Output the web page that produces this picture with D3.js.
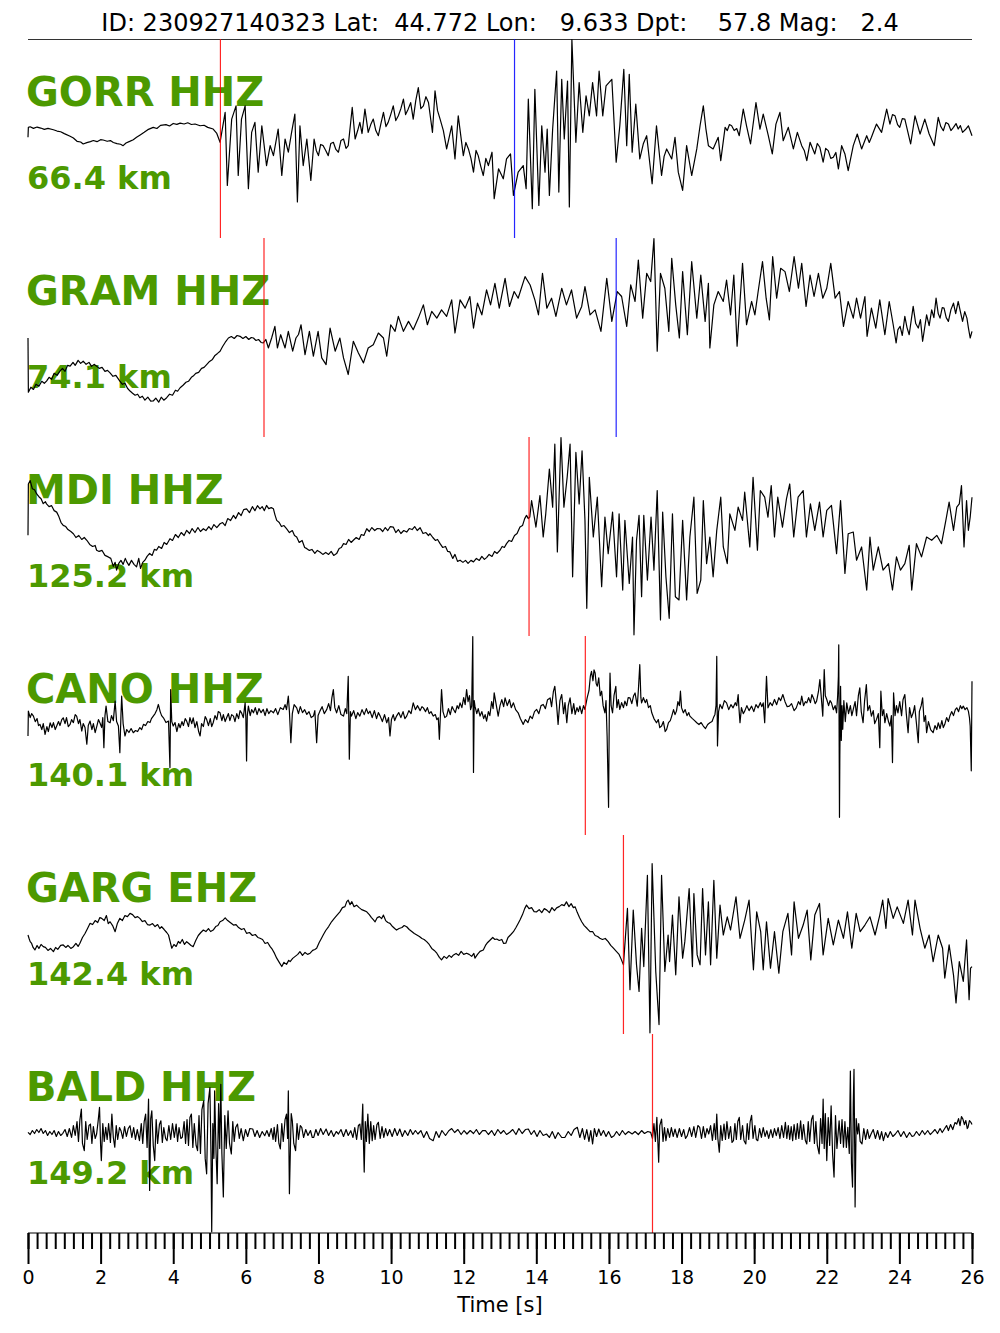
<!DOCTYPE html>
<html><head><meta charset="utf-8">
<script src="https://cdn.jsdelivr.net/npm/d3@7"></script>
<style>html,body{margin:0;padding:0;background:#fff;}svg{display:block;}</style>
</head><body>
<script>
const titleText = "ID: 230927140323 Lat:  44.772 Lon:   9.633 Dpt:    57.8 Mag:   2.4";
const stations = ["GORR HHZ","GRAM HHZ","MDI HHZ","CANO HHZ","GARG EHZ","BALD HHZ"];
const distances = ["66.4 km","74.1 km","125.2 km","140.1 km","142.4 km","149.2 km"];
const pPicks = [5.3, 6.5, 13.8, 15.35, 16.4, 17.2];
const sPicks = [13.4, 16.2, null, null, null, null];
const tickLabels = [0,2,4,6,8,10,12,14,16,18,20,22,24,26];
const xLabel = "Time [s]";

// [time s, amplitude (normalised, -100..100)]
const gorr = [[0,1.2],[0.01,11.2],[0.06,11.8],[0.15,10.2],[0.25,11.5],[0.35,10.5],[0.45,9.2],[0.55,10.1],[0.7,8.8],[0.8,7.5],[0.9,6.8],[1.0,4.9],[1.16,2.2],[1.25,0.5],[1.35,-2.8],[1.45,-3.5],[1.52,-5.5],[1.62,-4.2],[1.72,-3.1],[1.8,-2],[1.9,-3.2],[2.0,-1.2],[2.07,-1.5],[2.18,-2.8],[2.27,-2.1],[2.35,-4],[2.45,-5.1],[2.55,-5.8],[2.62,-7.2],[2.7,-4.5],[2.8,-2.9],[2.9,-1.2],[2.99,1.2],[3.1,3.8],[3.2,6.2],[3.3,8.9],[3.45,11.2],[3.55,10.1],[3.65,13.2],[3.8,14],[3.9,12.6],[4.0,15.1],[4.1,14.2],[4.19,15.5],[4.3,14.6],[4.4,15.8],[4.5,14.1],[4.6,14.6],[4.74,12.8],[4.85,13.3],[4.95,11.2],[5.10,9.5],[5.2,5.1],[5.29,-3.8],
[5.43,26.2],[5.49,-47.2],[5.61,19.5],[5.73,32.8],[5.79,-37.2],[5.88,19.5],[5.98,32.8],[6.07,-50.5],[6.16,6.2],[6.25,16.2],[6.34,-33.8],[6.44,12.8],[6.57,-27.2],[6.67,-7.2],[6.76,-17.2],[6.89,9.5],[6.99,-37.2],[7.08,-0.5],[7.17,-13.8],[7.26,6.2],[7.35,24.5],[7.42,-63.8],[7.49,12.8],[7.58,-27.2],[7.68,-0.5],[7.79,-42.2],[7.88,-0.5],[7.94,-12],[8.00,-17.2],[8.06,-6],[8.13,-7.2],[8.2,-12],[8.27,-17.2],[8.34,-5],[8.41,-3.8],[8.48,-11],[8.55,-13.8],[8.62,-2],[8.69,-0.5],[8.76,-10],[8.82,-7.2],[8.93,31.2],[9.01,-0.5],[9.08,8],[9.14,16.2],[9.2,5],[9.28,29.5],[9.37,6.2],[9.44,14],[9.51,19.5],[9.58,8],[9.65,2.8],[9.72,15],[9.79,26.2],[9.86,12],[9.92,16.2],[9.99,24],[10.06,32.8],[10.13,18],[10.20,22.8],[10.27,30],[10.34,39.5],[10.4,24],[10.47,29.5],[10.54,36],[10.61,19.5],[10.68,38],[10.75,51.2],[10.82,30],[10.89,32.8],[10.96,42],[11.03,36.2],[11.14,6.2],[11.21,47.8],[11.28,28],[11.35,19.5],[11.44,8],[11.53,-10.5],[11.67,12.8],[11.76,-20.5],[11.85,22.8],[11.99,-17.2],[12.06,-4],[12.13,-10.5],[12.2,-20],[12.27,-33.8],[12.34,-12],[12.40,-17.2],[12.47,-28],[12.54,-37.2],[12.61,-20],[12.68,-27.2],[12.78,-13.8],[12.84,-60.5],[12.96,-30.5],
[13.09,-40.5],[13.18,-20.5],[13.29,-15.5],[13.37,-57.2],[13.50,-33.8],[13.64,-27.2],[13.72,-50.5],[13.78,39.5],[13.89,-70.5],[13.96,49.5],[14.07,-67.2],[14.15,12.8],[14.24,-33.8],[14.30,9.5],[14.36,-57.2],[14.45,9.5],[14.56,67.8],[14.62,-53.8],[14.70,59.5],[14.77,-0.5],[14.86,57.8],[14.91,-68.8],[14.98,99.5],[15.09,-3.8],[15.18,56.2],[15.28,6.2],[15.37,42.8],[15.46,22.8],[15.55,56.2],[15.66,22.8],[15.73,67.8],[15.83,22.8],[15.92,52.8],[16.08,59.5],[16.20,-23.8],[16.30,12.8],[16.41,69.5],[16.49,-7.2],[16.56,64.5],[16.64,-13.8],[16.74,34.5],[16.85,-20.5],[16.95,-5],[17.04,2.8],[17.19,-45.5],[17.31,12.8],[17.45,-37.2],[17.52,-18],[17.59,-10.5],[17.73,-20.5],[17.82,1.2],[17.91,-33.8],[18.03,-52.2],[18.14,-7.2],[18.28,-37.2],[18.42,-10.5],[18.51,12.8],[18.60,32.8],[18.67,10],[18.74,-7.2],[18.87,-10.5],[19.01,1.2],[19.08,-22.2],[19.20,11.2],[19.26,8],[19.32,14],[19.38,12.8],[19.45,8],[19.52,10],[19.59,2.8],[19.70,29.5],[19.79,12.8],[19.90,-5.5],[20.05,36.2],[20.16,9.5],[20.25,24.5],[20.39,2.8],[20.50,-15.5],[20.60,14.5],[20.71,26.2],[20.80,-2.2],[20.94,11.2],[21.08,-10.5],[21.19,6.2],[21.31,-7.2],[21.38,-12],[21.45,-22.2],[21.54,-3.8],[21.67,-15.5],[21.74,-5],[21.81,-8.8],[21.90,-23.8],[21.97,-10],[22.04,-12.2],[22.11,-20],[22.18,-18.8],[22.25,-14],[22.32,-30.5],[22.41,-7.2],[22.50,-15.5],[22.59,-32.2],[22.73,-7.2],[22.84,4.5],[22.96,-10.5],[23.10,2.8],[23.17,-4],[23.23,1.2],[23.3,8],[23.37,14.5],[23.51,6.2],[23.65,29.5],[23.74,14.5],[23.81,24],[23.88,22.8],[23.95,14],[24.01,11.2],[24.08,20],[24.15,19.5],[24.31,-5.5],[24.43,22.8],[24.57,4.5],[24.70,19.5],[24.82,4.5],[24.96,-7.2],[25.07,21.2],[25.14,12],[25.21,7.8],[25.28,16],[25.35,14.5],[25.42,8],[25.49,11.2],[25.56,15],[25.62,9.5],[25.68,13],[25.74,6.2],[25.82,9],[25.90,12.8],[26.00,2.8]];

const gram = [[0,-0.5],[0.01,-55],[0.08,-50],[0.15,-52.2],[0.22,-47],[0.3,-49],[0.38,-44],[0.45,-46],[0.51,-43.8],[0.58,-40],[0.65,-42],[0.72,-36],[0.8,-38],[0.88,-33.8],[0.95,-31],[1.02,-34],[1.09,-28],[1.16,-28.8],[1.24,-25],[1.3,-28],[1.38,-23],[1.45,-26],[1.52,-23.8],[1.6,-27],[1.68,-25],[1.75,-29],[1.82,-27],[1.89,-28.8],[1.96,-31],[2.04,-30],[2.12,-34],[2.19,-33],[2.26,-35.5],[2.34,-39],[2.42,-38],[2.53,-43.8],[2.6,-47],[2.67,-46],[2.74,-51],[2.81,-53.8],[2.88,-56],[2.95,-58],[3.02,-57],[3.08,-60.5],[3.15,-59],[3.22,-63],[3.3,-60],[3.38,-64],[3.45,-63.8],[3.52,-61],[3.6,-65],[3.67,-60],[3.74,-63],[3.82,-60.5],[3.9,-57],[3.98,-58],[4.06,-53],[4.12,-54],[4.19,-50.5],[4.27,-48],[4.35,-45],[4.42,-44],[4.5,-40],[4.55,-38.8],[4.62,-36],[4.7,-35],[4.78,-31],[4.85,-30],[4.92,-27.2],[5.0,-24],[5.08,-22],[5.15,-18],[5.22,-16],[5.29,-13.8],[5.36,-9],[5.43,-5],[5.52,-0.5],[5.6,1],[5.68,-1],[5.76,2],[5.84,1.2],[5.92,-1],[6.0,1],[6.08,-2],[6.15,0],[6.21,-0.5],[6.28,-3],[6.35,-2],[6.42,-5],[6.48,-5.5],
[6.55,-2],[6.62,-10.5],[6.71,-0.5],[6.80,11.2],[6.87,-10.5],[6.96,2.8],[7.02,-4],[7.08,-10.5],[7.17,6.2],[7.29,-13.8],[7.38,-0.5],[7.45,3],[7.52,12.8],[7.63,-17.2],[7.75,6.2],[7.86,-18.8],[7.99,6.2],[8.09,-20.5],[8.21,-27.2],[8.32,9.5],[8.46,-13.8],[8.59,-0.5],[8.69,-20.5],[8.82,-37.2],[8.96,-3.8],[9.10,-15.5],[9.24,-25.5],[9.37,-10.5],[9.51,-7.2],[9.65,4.5],[9.79,-0.5],[9.88,-18.8],[9.99,12.8],[10.11,6.2],[10.20,21.2],[10.34,6.2],[10.48,16.2],[10.61,7.8],[10.75,19.5],[10.89,32.8],[11.00,12.8],[11.12,26.2],[11.26,19.5],[11.39,27.8],[11.53,21.2],[11.67,37.8],[11.76,4.5],[11.90,37.8],[12.04,29.5],[12.17,41.2],[12.27,9.5],[12.38,34.5],[12.50,22.8],[12.63,47.8],[12.74,32.8],[12.86,54.5],[12.98,29.5],
[13.14,59.5],[13.26,31.2],[13.39,46.2],[13.50,39.5],[13.69,61.2],[13.83,52.8],[13.96,37.8],[14.06,22.8],[14.17,64.5],[14.29,29.5],[14.42,39.5],[14.54,21.2],[14.70,49.5],[14.83,32.8],[14.97,47.8],[15.11,19.5],[15.25,31.2],[15.34,51.2],[15.48,22.8],[15.62,27.8],[15.78,6.2],[15.94,59.5],[16.08,16.2],[16.23,46.2],[16.35,41.2],[16.49,11.2],[16.60,52.8],[16.72,36.2],[16.81,77.8],[16.93,19.5],[17.04,64.5],[17.15,56.2],[17.24,99.5],[17.33,-13.8],[17.42,64.5],[17.54,49.5],[17.65,6.2],[17.73,79.5],[17.84,32.8],[17.94,-0.5],[18.03,66.2],[18.16,2.8],[18.28,76.2],[18.42,19.5],[18.53,62.8],[18.65,16.2],[18.74,54.5],[18.78,-10.5],[18.89,32.8],[19.01,46.2],[19.15,36.2],[19.24,57.8],[19.35,22.8],[19.44,62.8],[19.53,-8.8],[19.68,74.5],[19.79,12.8],[19.93,36.2],[20.02,22.8],[20.11,46.2],[20.23,76.2],[20.33,39.5],[20.42,17.8],[20.51,81.2],[20.62,39.5],[20.73,69.5],[20.85,66.2],[20.97,46.2],[21.10,81.2],[21.22,49.5],[21.31,74.5],[21.43,31.2],[21.54,62.8],[21.65,41.2],[21.77,64.5],[21.89,39.5],[22.00,49.5],[22.11,74.5],[22.23,39.5],[22.35,46.2],[22.46,11.2],[22.59,36.2],[22.73,19.5],[22.82,39.5],[22.93,19.5],[23.05,41.2],[23.11,1.2],[23.23,29.5],[23.35,9.5],[23.46,37.8],[23.60,2.8],[23.72,36.2],[23.83,12.8],[23.91,-5.5],[23.96,8],[24.02,11.2],[24.08,2],[24.15,21.2],[24.21,10],[24.27,2.8],[24.38,31.2],[24.45,14],[24.52,9.5],[24.58,18],[24.64,-3.8],[24.75,22.8],[24.82,12],[24.89,27.8],[24.95,20],[25.01,39.5],[25.07,24],[25.12,19.5],[25.18,30],[25.23,29.5],[25.29,20],[25.35,16.2],[25.42,28],[25.49,34.5],[25.55,24],[25.62,36.2],[25.68,26],[25.74,16.2],[25.8,26],[25.86,19.5],[25.9,10],[25.95,-0.5],[26.00,6.2]];

const mdi = [[0,1.2],[0.01,52.8],[0.06,56.2],[0.12,48],[0.18,47],[0.24,42.8],[0.3,40],[0.36,38],[0.42,33],[0.48,35],[0.51,32.8],[0.58,30],[0.65,31],[0.72,26],[0.79,24.5],[0.85,20],[0.91,14],[0.97,11.2],[1.04,10],[1.1,7],[1.18,5],[1.25,2.8],[1.32,-1],[1.4,1],[1.48,-3],[1.55,-1],[1.62,-3.8],[1.7,-8],[1.78,-10],[1.85,-9],[1.89,-13.8],[1.96,-15],[2.04,-14],[2.12,-19],[2.21,-20.5],[2.28,-22],[2.35,-30],[2.4,-26],[2.44,-33.8],[2.5,-27],[2.56,-24],[2.62,-28],[2.68,-22],[2.72,-25.5],[2.78,-29],[2.85,-24],[2.92,-28],[2.99,-30.5],[3.05,-22],[3.1,-32],[3.16,-26],[3.22,-23.8],[3.28,-20],[3.35,-17],[3.42,-19],[3.48,-13],[3.54,-13.8],[3.6,-10],[3.68,-12],[3.75,-6],[3.82,-8],[3.91,-2.2],[3.98,-4],[4.06,2],[4.14,-1],[4.22,4],[4.3,1],[4.37,6.2],[4.45,3],[4.52,8],[4.6,4],[4.68,9],[4.75,5],[4.83,7.8],[4.9,6],[4.98,10],[5.05,7],[5.12,12],[5.2,9],[5.29,12.8],[5.36,14],[5.43,11],[5.5,18],[5.58,16],[5.66,21.2],[5.72,18],[5.8,24],[5.87,21],[5.94,27],[6.02,27.8],[6.1,24],[6.18,30],[6.25,26],[6.32,31],[6.39,27.8],[6.45,30],[6.51,26],[6.57,31.2],[6.63,28],[6.7,29],[6.76,27.8],[6.8,22],[6.85,16.2],[6.92,14],[6.98,10],[7.05,11],[7.12,7.8],[7.2,4],[7.28,6],[7.34,1],[7.4,-0.5],[7.47,-6],[7.55,-4],[7.62,-11],[7.68,-12.2],[7.75,-14],[7.82,-13],[7.9,-17],[7.97,-14],[8.04,-15.5],[8.12,-18],[8.2,-16],[8.28,-18],[8.35,-15],[8.42,-19],[8.5,-17.2],[8.57,-12],[8.63,-11],[8.69,-7.2],[8.76,-8],[8.83,-3],[8.9,-6],[8.96,-3.8],[9.04,-1],[9.12,-3],[9.18,2],[9.25,1],[9.33,7.8],[9.4,5],[9.47,9],[9.55,6],[9.62,8],[9.7,7.8],[9.77,5],[9.84,9],[9.91,6],[9.98,10],[10.06,9.5],[10.13,4],[10.2,7],[10.27,3],[10.35,6],[10.43,4.5],[10.5,8],[10.58,7],[10.65,10],[10.72,6],[10.8,8.8],[10.88,3],[10.96,4],[11.03,1],[11.07,2.8],[11.15,-1],[11.22,-4],[11.28,-3],[11.35,-7.2],[11.42,-11],[11.5,-10],[11.56,-15],[11.62,-15.5],[11.7,-22],[11.76,-18],[11.83,-25],[11.9,-23.8],[11.98,-26],[12.05,-24],[12.12,-27],[12.2,-24],[12.27,-25.5],[12.35,-22],[12.43,-24],[12.5,-20],[12.57,-23],[12.63,-21.2],[12.7,-18],[12.78,-20],[12.85,-15],[12.92,-17],[13.0,-13.8],[13.06,-10],[13.12,-11],[13.18,-7.2],[13.25,-4],[13.32,-5],[13.4,1],[13.47,3],[13.55,9.5],[13.62,11],[13.68,18],[13.73,21.2],[13.78,18],[13.82,19.5],
[13.87,36.2],[13.99,9.5],[14.10,41.2],[14.19,-0.5],[14.26,22.8],[14.36,67.8],[14.45,29.5],[14.51,92.8],[14.58,-15.5],[14.68,99.5],[14.76,29.5],[14.85,59.5],[14.93,92.8],[15.00,-40.5],[15.09,84.5],[15.18,32.8],[15.26,86.2],[15.34,16.2],[15.39,-72.2],[15.46,59.5],[15.57,-0.5],[15.68,39.5],[15.80,-50.5],[15.89,19.5],[15.98,-17.2],[16.10,24.5],[16.21,-40.5],[16.28,22.8],[16.38,-53.8],[16.44,16.2],[16.56,-47.2],[16.65,-0.5],[16.69,-98.8],[16.76,-3.8],[16.83,21.2],[16.90,-60.5],[16.96,21.2],[17.06,-43.8],[17.16,19.5],[17.24,-33.8],[17.33,46.2],[17.42,-83.8],[17.48,24.5],[17.57,-40.5],[17.66,-82.2],[17.75,22.8],[17.83,-60.5],[17.93,-63.8],[18.03,16.2],[18.14,-63.8],[18.23,-0.5],[18.34,39.5],[18.43,-57.2],[18.53,-43.8],[18.60,36.2],[18.69,-27.2],[18.78,-0.5],[18.87,-40.5],[18.97,6.2],[19.08,39.5],[19.15,-10.5],[19.26,-27.2],[19.33,22.8],[19.47,6.2],[19.56,29.5],[19.68,16.2],[19.74,44.5],[19.88,-10.5],[19.97,59.5],[20.09,-13.8],[20.17,46.2],[20.29,39.5],[20.38,19.5],[20.47,51.2],[20.56,-0.5],[20.65,39.5],[20.78,9.5],[20.89,37.8],[20.98,52.8],[21.09,-0.5],[21.21,39.5],[21.35,46.2],[21.44,-0.5],[21.55,32.8],[21.67,6.2],[21.80,34.5],[21.90,-0.5],[22.00,26.2],[22.13,31.2],[22.27,-17.2],[22.38,36.2],[22.50,-37.2],[22.59,2.8],[22.73,4.5],[22.82,-23.8],[22.96,-10.5],[23.10,-53.8],[23.19,-0.5],[23.28,-33.8],[23.42,-10.5],[23.55,-33.8],[23.70,-27.2],[23.81,-53.8],[23.92,-20.5],[24.03,-33.8],[24.15,-27.2],[24.27,-8.8],[24.34,-53.8],[24.47,-7.2],[24.61,-20.5],[24.75,-0.5],[24.89,-3.8],[25.03,1.2],[25.16,-7.2],[25.28,16.2],[25.37,34.5],[25.49,6.2],[25.58,29.5],[25.65,32.8],[25.71,51.2],[25.78,-10.5],[25.85,36.2],[25.90,6.2],[25.95,19.5],[26.00,39.5]];

const cano = [[0,-0.5],[0.01,24.5],[0.06,18],[0.1,22],[0.15,19.5],[0.2,14],[0.25,17],[0.29,10],[0.33,11.2],[0.38,6],[0.42,12],[0.47,1.2],[0.52,9],[0.56,4],[0.61,12.8],[0.66,8],[0.7,13],[0.75,6],[0.79,9.5],[0.84,14],[0.88,10],[0.93,16],[0.97,17.8],[1.02,12],[1.06,18],[1.11,9],[1.16,11.2],[1.2,16],[1.25,13],[1.3,21],[1.34,19.5],[1.39,12],[1.43,16],[1.48,4.5],[1.52,12],[1.57,8],[1.62,-8.8],[1.66,10],[1.71,14.5],[1.76,6],[1.8,12],[1.85,2.8],[1.9,10],[1.94,16],[1.98,12.8],[2.03,8],[2.06,18],[2.09,-12.2],[2.12,20],[2.15,29.5],[2.2,14],[2.26,12.8],[2.3,20],[2.35,15],[2.4,34.5],[2.44,14],[2.49,9.5],[2.53,-17.2],[2.56,20],[2.58,39.5],[2.62,12],[2.67,-0.5],[2.72,6],[2.78,3],[2.84,7],[2.9,2.8],[2.96,5],[3.02,4],[3.08,8],[3.13,6],[3.18,11.2],[3.24,10],[3.3,14],[3.36,13],[3.4,17],[3.45,19.5],[3.5,22],[3.55,26],[3.59,31.2],[3.64,24],[3.68,20],[3.73,17.8],[3.8,13],[3.87,14.5],[3.91,-32.2],[3.93,46.2],[3.96,14],[4.0,9.5],[4.05,13],[4.1,4],[4.15,12],[4.19,7.8],[4.24,14],[4.28,10],[4.33,17],[4.37,14.5],[4.42,9],[4.46,18],[4.51,12],[4.55,17.8],[4.6,8],[4.65,14],[4.7,4],[4.74,-0.5],[4.78,12],[4.83,9],[4.88,19],[4.92,16.2],[4.97,10],[5.02,17],[5.06,9],[5.10,12.8],[5.15,20],[5.2,16],[5.24,24],[5.29,22.8],[5.34,15],[5.38,21],[5.43,14],[5.47,17.8],[5.52,22],[5.56,15],[5.61,21],[5.66,19.5],[5.7,14],[5.75,22],[5.8,17],[5.84,25],[5.88,22.8],[5.93,18],[5.98,32.8],[6.0,18],[6.02,-25.5],[6.04,20],[6.07,29.5],[6.12,20],[6.16,26],[6.21,22.8],[6.26,28],[6.31,21],[6.36,27],[6.42,23],[6.48,26.2],[6.53,20],[6.58,27],[6.63,22],[6.69,25],[6.76,22.8],[6.82,27],[6.88,21],[6.95,28],[7.03,26.2],[7.08,31],[7.12,26],[7.17,39.5],[7.2,24],[7.24,-7.2],[7.28,22],[7.33,31],[7.4,27.8],[7.45,22],[7.5,29],[7.56,23],[7.62,26],[7.68,21.2],[7.74,24],[7.8,18],[7.86,19.5],[7.9,25],[7.95,-7.2],[7.99,20],[8.04,24.5],[8.1,29],[8.16,22],[8.23,26.2],[8.28,32],[8.33,25],[8.37,38],[8.41,46.2],[8.45,28],[8.5,22.8],[8.56,30],[8.62,21],[8.69,19.5],[8.74,27],[8.78,22],[8.82,59.5],[8.85,-23.8],[8.88,24],[8.91,19.5],[8.97,25],[9.03,17],[9.08,23],[9.14,19.5],[9.2,26],[9.26,21],[9.32,27],[9.37,22],[9.42,24.5],[9.48,18],[9.54,25],[9.6,17],[9.65,23],[9.7,19.5],[9.76,14],[9.82,21],[9.88,12.8],[9.93,18],[9.97,-0.5],[10.01,16],[10.06,21],[10.1,15],[10.15,19.5],[10.21,23],[10.27,18],[10.33,24],[10.38,17],[10.43,19.5],[10.49,25],[10.55,22],[10.61,32.8],[10.67,26],[10.73,30],[10.8,25],[10.85,29],[10.89,27.8],[10.95,24],[11.0,28],[11.05,22],[11.1,24],[11.16,19.5],[11.22,21],[11.26,16],[11.3,17.8],[11.33,-3.8],[11.36,22],[11.39,46.2],[11.43,24],[11.48,18],[11.53,19.5],[11.58,27],[11.63,21],[11.68,29],[11.72,26.2],[11.77,23],[11.82,30],[11.86,27],[11.9,32.8],[11.95,28],[12.0,38],[12.04,31],[12.08,46.2],[12.12,34],[12.16,40],[12.19,26],[12.22,29.5],[12.25,99.5],[12.27,-37.2],[12.29,35],[12.31,29.5],[12.36,22],[12.4,27],[12.45,19.5],[12.5,24],[12.55,17],[12.59,21],[12.63,14.5],[12.68,24],[12.72,20],[12.77,34],[12.81,27],[12.84,42.8],[12.9,30],[12.95,19.5],[13.0,30],[13.05,36],[13.1,29],[13.14,37.8],[13.2,30],[13.26,36],[13.31,28],[13.37,32.8],[13.43,26],[13.5,22.8],[13.56,17],[13.64,11.2],[13.7,16],[13.77,13],[13.83,19.5],[13.89,17],[13.95,24],[14.01,26.2],[14.07,22],[14.13,30],[14.19,31.2],[14.25,27],[14.31,36],[14.38,37.8],[14.42,29],[14.47,44],[14.51,49.5],[14.56,30],[14.6,11.2],[14.65,35],[14.7,41.2],[14.75,22],[14.79,33],[14.84,12.8],[14.88,30],[14.93,37.8],[14.98,22],[15.03,32],[15.07,21.2],[15.12,28],[15.16,24],[15.2,29.5],[15.25,22],[15.3,30],[15.34,26.2],
[15.40,37.8],[15.45,45],[15.49,60],[15.52,64.5],[15.56,55],[15.59,66],[15.62,62.8],[15.65,52],[15.68,49.5],[15.72,58],[15.76,40],[15.8,44.5],[15.84,30],[15.89,22.8],[15.92,35],[15.95,-0.5],[15.99,-72.2],[16.01,20],[16.03,62.8],[16.06,30],[16.1,22.8],[16.14,40],[16.19,49.5],[16.22,28],[16.26,36],[16.3,26.2],[16.35,33],[16.4,28],[16.44,34.5],[16.49,30],[16.53,38],[16.58,37.8],[16.63,32],[16.68,40],[16.72,42.8],[16.78,29.5],[16.81,45],[16.85,71.2],[16.88,38],[16.9,32.8],[16.95,38],[17.0,33],[17.04,36.2],[17.09,28],[17.14,30],[17.18,22.8],[17.24,17],[17.31,12.8],[17.36,16],[17.4,8],[17.45,9.5],[17.5,14],[17.55,4],[17.59,6.2],[17.64,13],[17.69,15],[17.73,19.5],[17.78,26],[17.82,21],[17.86,24.5],[17.9,34],[17.94,30],[17.97,44.5],[18.0,28],[18.05,22.8],[18.1,26],[18.15,20],[18.2,23],[18.23,19.5],[18.3,17],[18.36,15],[18.42,12.8],[18.48,11],[18.54,13],[18.6,9.5],[18.66,7],[18.72,11],[18.78,12.8],[18.84,14],[18.88,18],[18.92,21.2],[18.95,30],[18.97,79.5],[18.99,-10.5],[19.02,24],[19.06,31.2],[19.12,27],[19.18,35],[19.24,32.8],[19.3,26],[19.36,31],[19.42,27.8],[19.48,33],[19.52,30],[19.56,41.2],[19.58,28],[19.61,12.8],[19.65,28],[19.7,22],[19.74,24.5],[19.8,30],[19.86,25],[19.93,29.5],[19.99,24],[20.05,31],[20.11,27.8],[20.17,33],[20.21,29],[20.25,32.8],[20.29,12.8],[20.34,59.5],[20.38,27.8],[20.44,33],[20.5,30],[20.56,36.2],[20.62,31],[20.68,38],[20.73,35],[20.79,41.2],[20.85,34],[20.91,29],[20.97,29.5],[21.03,32],[21.1,25],[21.16,27.8],[21.22,34],[21.27,31],[21.31,39.5],[21.36,30],[21.41,34],[21.45,32.8],[21.5,38],[21.55,33],[21.59,41.2],[21.64,37],[21.68,32],[21.72,34.5],[21.77,44],[21.81,56.2],[21.85,38],[21.89,19.5],[21.93,66.2],[21.96,40],[22.0,36.2],[22.05,30],[22.09,35],[22.13,32.8],[22.18,26],[22.23,30],[22.27,22.8],[22.3,40],[22.32,59.5],[22.33,91.2],[22.35,-82.2],[22.36,-20],[22.38,49.5],[22.4,-5],[22.42,30],[22.44,6.2],[22.47,35],[22.51,14],[22.55,32.8],[22.6,22],[22.65,30],[22.69,20],[22.73,26.2],[22.78,34],[22.82,20],[22.87,40],[22.91,47.8],[22.95,24],[23.0,12.8],[23.04,34],[23.09,51.2],[23.13,25],[23.18,30],[23.23,19.5],[23.28,25],[23.32,12],[23.37,16.2],[23.42,22],[23.46,-12.2],[23.49,44.5],[23.53,20],[23.57,26],[23.6,12.8],[23.65,22],[23.7,14],[23.74,9.5],[23.78,20],[23.81,-27.2],[23.84,42.8],[23.88,20],[23.92,30],[23.96,22.8],[24.01,34],[24.06,20],[24.1,36],[24.15,41.2],[24.19,22],[24.24,2.8],[24.28,28],[24.33,18],[24.38,22.8],[24.42,30],[24.47,12],[24.52,-7.2],[24.55,24],[24.6,30],[24.64,37.8],[24.68,14],[24.72,20],[24.75,2.8],[24.8,14],[24.86,6],[24.93,2.8],[24.98,10],[25.03,6],[25.07,12.8],[25.12,7],[25.17,15],[25.21,8],[25.25,11.2],[25.3,18],[25.35,14],[25.39,19.5],[25.44,24],[25.49,20],[25.54,26],[25.58,27.8],[25.63,24],[25.68,30],[25.72,27],[25.76,29.5],[25.81,26],[25.86,28],[25.9,24.5],[25.93,18],[25.95,9.5],[25.98,-35.5],[26.00,54.5]];

const garg = [[0,-0.5],[0.03,-4],[0.06,-7.2],[0.1,-9],[0.14,-13],[0.19,-15.5],[0.25,-11],[0.3,-14],[0.36,-10],[0.42,-12.2],[0.48,-13],[0.55,-16],[0.62,-14],[0.7,-17.2],[0.76,-13],[0.82,-15],[0.9,-11],[0.97,-10.5],[1.04,-13],[1.1,-11],[1.18,-14],[1.25,-12.2],[1.32,-9],[1.38,-12],[1.43,-8.8],[1.5,-3],[1.57,1],[1.64,6],[1.71,11.2],[1.78,10],[1.85,14],[1.92,12],[1.98,17],[2.03,16.2],[2.1,14],[2.16,19],[2.21,11],[2.26,12.8],[2.33,9],[2.4,2.8],[2.46,11],[2.53,16.2],[2.6,14],[2.67,19],[2.74,18],[2.81,21.2],[2.88,20],[2.95,17],[3.02,18],[3.08,16.2],[3.15,13],[3.22,14],[3.29,10],[3.36,9.5],[3.43,11],[3.5,8],[3.57,10],[3.63,6],[3.68,7.8],[3.75,5],[3.82,2],[3.87,-0.5],[3.92,-8],[3.96,-13.8],[4.02,-10],[4.08,-12],[4.14,-7],[4.19,-8.8],[4.25,-5],[4.31,-10],[4.37,-7.2],[4.43,-9],[4.49,-11],[4.55,-12.2],[4.62,-6],[4.69,-1],[4.76,2],[4.83,4.5],[4.9,3],[4.97,6],[5.03,3],[5.1,4.5],[5.17,8],[5.23,9],[5.29,12.8],[5.36,14],[5.43,16.8],[5.5,14],[5.57,12],[5.66,9.5],[5.73,10],[5.8,7],[5.88,5],[5.95,6],[6.02,1.2],[6.1,2],[6.18,-1],[6.26,0],[6.33,-3],[6.39,-3.8],[6.46,-5],[6.53,-9],[6.6,-8],[6.67,-12.2],[6.73,-15],[6.79,-19],[6.85,-23.8],[6.92,-28],[6.99,-32.2],[7.05,-28],[7.12,-30],[7.18,-26],[7.22,-27.2],[7.29,-24],[7.36,-22],[7.43,-20],[7.49,-17.2],[7.56,-21],[7.63,-18],[7.7,-20],[7.77,-18.8],[7.84,-16],[7.9,-15],[7.95,-13.8],[8.02,-8],[8.08,-4],[8.13,-0.5],[8.2,4],[8.28,8],[8.36,12.8],[8.43,16],[8.5,19],[8.59,22.8],[8.66,27],[8.73,28],[8.78,33],[8.82,34.5],[8.87,30],[8.92,33],[8.98,28],[9.05,29.5],[9.12,27],[9.19,25],[9.26,24],[9.33,22.8],[9.4,20],[9.46,17],[9.51,15],[9.56,12.8],[9.62,17],[9.68,18],[9.74,16],[9.79,19.5],[9.85,14],[9.91,12],[9.97,11.2],[10.04,8],[10.1,6],[10.15,4.5],[10.22,6],[10.3,7],[10.36,9],[10.43,7.8],[10.5,5],[10.57,3],[10.64,1],[10.71,-0.5],[10.78,-2],[10.85,-4],[10.91,-5],[10.98,-7.2],[11.05,-10],[11.12,-14],[11.19,-16],[11.26,-18.8],[11.33,-23],[11.39,-25.5],[11.46,-22],[11.53,-24],[11.6,-21],[11.66,-23],[11.72,-20.5],[11.79,-19],[11.86,-21],[11.93,-17],[12.0,-20],[12.08,-18.8],[12.15,-20],[12.22,-22],[12.28,-19],[12.31,-23.8],[12.38,-20],[12.45,-17],[12.54,-15.5],[12.6,-11],[12.66,-8],[12.73,-5.5],[12.8,-3],[12.86,-5],[12.91,-4.5],[12.98,-6],[13.05,-5],[13.1,-9],[13.16,-8.8],[13.22,-3],[13.3,0],[13.37,2.8],[13.44,7],[13.5,11],[13.55,14.5],[13.62,20],[13.68,26],[13.73,29.5],[13.8,26],[13.87,27],[13.94,23],[14.01,22.8],[14.08,25],[14.15,22],[14.22,26],[14.29,24.5],[14.36,22],[14.43,27],[14.5,24],[14.56,26.8],[14.63,28],[14.7,30],[14.77,29],[14.83,32.8],[14.9,28],[14.96,31],[15.02,27],[15.07,27.8],[15.13,22],[15.19,17],[15.25,12.8],[15.32,9],[15.4,6],[15.48,2.8],[15.55,3],[15.62,-1],[15.69,-2],[15.75,-3.8],[15.82,-5],[15.9,-4],[15.98,-7.2],[16.05,-11],[16.13,-14],[16.21,-17.2],[16.28,-20],[16.34,-25],[16.40,-30.5],
[16.51,26.2],[16.58,-55.5],[16.67,24.5],[16.76,-30.5],[16.83,-57.2],[16.90,6.2],[16.96,-32.2],[17.06,59.5],[17.13,-98.8],[17.19,71.2],[17.29,-37.2],[17.38,-90.5],[17.45,59.5],[17.54,-37.2],[17.63,-0.5],[17.67,-27.2],[17.75,19.5],[17.84,-40.5],[17.93,37.8],[18.03,-23.8],[18.09,-7.2],[18.21,46.2],[18.30,-32.2],[18.34,41.2],[18.43,-20.5],[18.51,-30.5],[18.58,46.2],[18.66,-20.5],[18.74,32.8],[18.80,-30.5],[18.89,54.5],[18.97,-23.8],[19.06,29.5],[19.15,-0.5],[19.26,17.8],[19.35,4.5],[19.50,37.8],[19.61,-3.8],[19.74,14.5],[19.86,34.5],[19.98,-35.5],[20.07,22.8],[20.18,2.8],[20.25,-35.5],[20.34,12.8],[20.45,-33.8],[20.56,2.8],[20.68,-38.8],[20.79,2.8],[20.93,21.2],[21.03,-20.5],[21.10,32.8],[21.22,-3.8],[21.35,9.5],[21.46,24.5],[21.56,-25.5],[21.67,19.5],[21.80,31.2],[21.90,-20.5],[22.04,16.2],[22.18,-10.5],[22.32,14.5],[22.46,-3.8],[22.57,22.8],[22.69,-13.8],[22.81,21.2],[22.92,2.8],[23.05,9.5],[23.19,17.8],[23.33,-0.5],[23.46,19.5],[23.54,34.5],[23.63,6.2],[23.69,36.2],[23.83,16.2],[23.94,27.8],[24.11,11.2],[24.24,34.5],[24.36,-0.5],[24.43,34.5],[24.57,6.2],[24.70,-13.8],[24.82,-0.5],[24.93,-27.2],[25.07,-0.5],[25.19,-13.8],[25.25,-43.8],[25.37,-10.5],[25.49,-40.5],[25.56,-68.8],[25.65,-27.2],[25.76,-47.2],[25.85,-5.5],[25.92,-65.5],[25.96,-33.8],[26.00,-32.2]];

const bald = [[0,1.2],[0.06,-1],[0.12,3],[0.18,0],[0.24,4],[0.3,1],[0.36,5],[0.42,0],[0.48,3],[0.54,-2],[0.6,2],[0.66,-1],[0.72,3],[0.78,-3],[0.84,2],[0.9,-2],[0.96,0.2],[1.02,4],[1.08,-3],[1.14,5],[1.2,-4],[1.25,8],[1.3,-2],[1.35,12],[1.39,-8],[1.43,14],[1.47,24.5],[1.5,-10],[1.55,-17.2],[1.59,12],[1.63,-6],[1.68,8],[1.72,9.5],[1.76,-10],[1.8,7],[1.85,-5],[1.89,-0.5],[1.93,12],[1.97,26.2],[2.0,-12],[2.02,-27.2],[2.06,10],[2.1,-8],[2.14,6.2],[2.18,-6],[2.22,10],[2.27,-9],[2.31,19.5],[2.35,-4],[2.39,-13.8],[2.43,8],[2.47,-6],[2.52,6],[2.56,2.8],[2.61,-5],[2.66,7],[2.71,-3],[2.76,5],[2.81,7.8],[2.86,-4],[2.91,6],[2.96,-6],[3.01,4],[3.07,-7.2],[3.12,10],[3.16,-10],[3.2,12],[3.24,19.5],[3.28,-14],[3.32,34.5],[3.35,-57.2],[3.38,15],[3.41,22.8],[3.45,-12],[3.49,-27.2],[3.53,14],[3.57,-10],[3.62,9],[3.66,12.8],[3.7,-9],[3.74,6],[3.79,-5],[3.83,-7.2],[3.88,8],[3.93,-6],[3.98,10],[4.03,-4],[4.08,9.5],[4.12,-8],[4.16,6],[4.21,-5],[4.25,-3.8],[4.3,12],[4.34,-10],[4.38,14],[4.42,-12],[4.46,16],[4.5,19.5],[4.54,-14],[4.58,10],[4.63,-12],[4.67,-17.2],[4.71,18],[4.75,-20],[4.79,24],[4.84,32.8],[4.88,-25],[4.92,-40.5],[4.96,30],[5.01,46.2],[5.04,-20],[5.06,-98.8],[5.09,10],[5.12,-25],[5.14,42.8],[5.18,-20],[5.21,-50.5],[5.25,30],[5.28,-15],[5.31,49.5],[5.34,-20],[5.38,-63.8],[5.42,18],[5.46,-15],[5.51,22.8],[5.55,-10],[5.6,-20.5],[5.64,12],[5.68,-8],[5.72,6],[5.77,9.5],[5.82,-5],[5.87,5],[5.93,-7.2],[5.99,4],[6.05,-3],[6.11,5],[6.19,4.5],[6.25,-3],[6.31,3],[6.38,-4],[6.45,2],[6.52,-2.2],[6.58,3],[6.64,-3],[6.7,5],[6.75,-6],[6.78,6.2],[6.82,-8],[6.87,9],[6.91,-10],[6.95,-15.5],[6.99,10],[7.03,-8],[7.08,14],[7.12,19.5],[7.15,-5],[7.17,42.8],[7.2,-60.5],[7.23,-10],[7.25,20],[7.28,12.8],[7.32,-10],[7.37,-17.2],[7.41,10],[7.45,-6],[7.5,8],[7.54,6.2],[7.59,-4],[7.65,4],[7.71,-2],[7.78,3],[7.83,-4],[7.87,-3.8],[7.93,4],[7.99,-2],[8.06,5],[8.13,-1],[8.21,4.5],[8.28,-2],[8.35,3],[8.42,-3],[8.49,2],[8.55,-0.5],[8.62,4],[8.69,-3],[8.76,4],[8.82,-2],[8.89,2.8],[8.95,-4],[9.0,6],[9.05,-6],[9.1,8],[9.14,9.5],[9.18,-6],[9.22,29.5],[9.24,-10],[9.26,-38.8],[9.29,12],[9.32,-8],[9.36,19.5],[9.4,-10],[9.44,12],[9.48,-7.2],[9.52,8],[9.56,-6],[9.61,9],[9.65,11.2],[9.7,-5],[9.75,7],[9.8,-4],[9.85,5],[9.9,-2.2],[9.96,4],[10.03,-3],[10.1,5],[10.17,-2],[10.24,4.5],[10.31,-3],[10.38,3],[10.46,-2],[10.53,4],[10.6,-1],[10.67,3],[10.74,-0.5],[10.82,3],[10.9,-4],[10.98,2],[11.06,-5],[11.16,-7.2],[11.24,2],[11.32,-4],[11.4,3],[11.5,-2],[11.59,2.8],[11.67,5],[11.75,1],[11.84,4],[11.93,-1],[12.01,3],[12.09,-0.5],[12.18,3],[12.27,0],[12.35,4],[12.43,-1],[12.52,3],[12.6,2.8],[12.68,-1],[12.77,3],[12.85,-2],[12.94,4],[13.02,0],[13.1,3],[13.18,-1],[13.27,1.2],[13.35,4],[13.44,-1],[13.52,5],[13.61,0],[13.7,4],[13.78,4.5],[13.86,-1],[13.94,3],[14.02,-3],[14.1,3],[14.19,-2],[14.28,-0.5],[14.36,-4],[14.44,2],[14.52,-5],[14.6,1],[14.7,-4],[14.79,-3.8],[14.88,2],[14.96,-2],[15.04,4],[15.13,6.2],[15.2,-4],[15.27,5],[15.33,-6],[15.39,4],[15.45,-8],[15.5,3],[15.55,-10.5],[15.6,5],[15.66,-3],[15.72,4.5],[15.78,-2],[15.85,3],[15.92,-3],[15.99,2],[16.07,-4],[16.14,-2.2],[16.21,2],[16.29,-2],[16.37,3],[16.45,-1],[16.54,2],[16.64,-0.5],[16.72,2],[16.81,-1],[16.9,3],[16.98,0],[17.07,2],[17.15,1.2],[17.2,-5],[17.24,10],[17.28,-8],[17.32,16.2],[17.35,-10],[17.37,-28.8],[17.4,8],[17.45,14.5],[17.49,-8],[17.53,6],[17.57,-7.2],[17.62,5],[17.67,-4],[17.72,6],[17.77,-3],[17.82,4.5],[17.88,-4],[17.94,5],[18.0,-3],[18.06,4],[18.11,-5],[18.16,-2.2],[18.22,6],[18.28,-3],[18.34,7],[18.39,-4],[18.45,8],[18.5,6.2],[18.55,-5],[18.6,7],[18.65,-4],[18.7,5],[18.75,-0.5],[18.8,8],[18.85,-7],[18.9,10],[18.94,-6],[18.97,19.5],[19.0,-5],[19.04,-18.8],[19.08,8],[19.12,-7],[19.17,9.5],[19.21,-6],[19.25,12],[19.3,-5],[19.35,7],[19.39,-9],[19.43,-7.2],[19.47,10],[19.51,-6],[19.55,12],[19.59,16.2],[19.63,-6],[19.68,8],[19.72,-7],[19.77,-10.5],[19.81,10],[19.85,-6],[19.89,12],[19.93,18.2],[19.97,-5],[20.02,8],[20.06,-6],[20.1,-7.2],[20.15,5],[20.2,-4],[20.25,6],[20.3,-3],[20.35,2.8],[20.4,-5],[20.46,4],[20.51,-4],[20.56,5],[20.61,-2.2],[20.66,6],[20.71,-5],[20.76,8],[20.81,-4],[20.86,11.2],[20.9,-5],[20.94,8],[20.98,-6],[21.02,7],[21.06,-7.2],[21.1,9],[21.15,-6],[21.19,10],[21.23,-5],[21.28,12.8],[21.32,-6],[21.36,9],[21.41,-7],[21.45,-10.5],[21.49,12],[21.53,-8],[21.58,14],[21.62,18.2],[21.66,-10],[21.7,12],[21.74,-12],[21.79,-20.5],[21.83,15],[21.87,-10],[21.9,34.5],[21.93,-15],[21.96,20],[22.0,-27.2],[22.04,16],[22.08,-12],[22.12,27.8],[22.16,-20],[22.2,-43.8],[22.24,18],[22.28,-15],[22.34,12.8],[22.38,-10],[22.42,14],[22.46,-13.8],[22.5,12],[22.54,-14],[22.58,6.2],[22.62,-20],[22.65,62.8],[22.68,-30],[22.71,-53.8],[22.73,30],[22.75,64.5],[22.77,-20],[22.78,-73.8],[22.81,15],[22.85,-0.5],[22.88,10],[22.92,-8],[22.97,-10.5],[23.02,5],[23.07,-6],[23.12,4],[23.17,-5],[23.22,-0.5],[23.28,4],[23.34,-5],[23.4,3],[23.46,-6],[23.51,2],[23.56,-7.2],[23.62,1],[23.68,-4],[23.75,2],[23.82,-3],[23.89,-0.5],[23.96,3],[24.04,-3],[24.12,2],[24.2,-4],[24.28,1],[24.35,-3],[24.4,-2.2],[24.47,2],[24.55,-2],[24.63,3],[24.7,-1],[24.78,3],[24.85,-1],[24.91,1.2],[24.98,4],[25.05,0],[25.12,5],[25.18,1],[25.24,4.5],[25.3,8],[25.35,3],[25.41,9],[25.47,4],[25.53,11],[25.58,9.5],[25.63,15],[25.67,8],[25.71,17],[25.75,14.5],[25.79,9],[25.83,13],[25.87,5],[25.89,6.2],[25.93,13],[25.97,11.2],[26.00,9.0]];

const traces = [gorr, gram, mdi, cano, garg, bald];

const W = 1000, H = 1333;
const plotLeft = 28, plotRight = 972;
const panelTop0 = 39, panelH = 199;
const axisY = panelTop0 + panelH * stations.length;
const green = "#4c9900";
const font = "DejaVu Sans, sans-serif";

const svg = d3.select("body").append("svg").attr("width", W).attr("height", H);
const x = d3.scaleLinear().domain([0, 26]).range([plotLeft, plotRight]);

svg.append("text").attr("x", 500).attr("y", 31).attr("text-anchor", "middle")
  .attr("font-family", font).attr("font-size", 24).attr("fill", "#000")
  .style("white-space", "pre").attr("xml:space", "preserve").text(titleText);

svg.append("line").attr("x1", plotLeft).attr("x2", plotRight)
  .attr("y1", panelTop0 + 0.5).attr("y2", panelTop0 + 0.5)
  .attr("stroke", "#333").attr("stroke-width", 1);

stations.forEach((name, i) => {
  const top = panelTop0 + i * panelH;
  const y = d3.scaleLinear().domain([-100, 100]).range([top + panelH, top]);
  const g = svg.append("g");
  g.append("text").attr("x", 26).attr("y", top + 67)
    .attr("font-family", font).attr("font-weight", "bold").attr("font-size", 40)
    .attr("fill", green).text(name);
  g.append("text").attr("x", 27).attr("y", top + 150)
    .attr("font-family", font).attr("font-weight", "bold").attr("font-size", 32)
    .attr("fill", green).text(distances[i]);
  const line = d3.line().x(d => x(d[0])).y(d => y(d[1]));
  g.append("path").datum(traces[i]).attr("d", line)
    .attr("fill", "none").attr("stroke", "#000").attr("stroke-width", 1.2)
    .attr("stroke-linejoin", "round");
  if (pPicks[i] != null) {
    g.append("line").attr("x1", x(pPicks[i])).attr("x2", x(pPicks[i]))
      .attr("y1", top).attr("y2", top + panelH)
      .attr("stroke", "#ff0000").attr("stroke-width", 1.2).attr("opacity", 0.85);
  }
  if (sPicks[i] != null) {
    g.append("line").attr("x1", x(sPicks[i])).attr("x2", x(sPicks[i]))
      .attr("y1", top).attr("y2", top + panelH)
      .attr("stroke", "#0000ff").attr("stroke-width", 1.2).attr("opacity", 0.85);
  }
});

const minorAxis = d3.axisBottom(x).tickValues(d3.range(0, 26.001, 0.25)).tickSize(16).tickFormat("");
const majorAxis = d3.axisBottom(x).tickValues(tickLabels).tickSize(31).tickPadding(7).tickFormat(d3.format("d"));
const ga = svg.append("g").attr("transform", `translate(0,${axisY})`).call(minorAxis);
ga.selectAll(".tick line").attr("stroke", "#000").attr("stroke-width", 2);
ga.select(".domain").attr("stroke", "#000").attr("stroke-width", 1.2).attr("d", `M${plotLeft},0H${plotRight}`);
const gm = svg.append("g").attr("transform", `translate(0,${axisY})`).call(majorAxis);
gm.select(".domain").remove();
gm.selectAll(".tick line").attr("stroke", "#000").attr("stroke-width", 2);
gm.selectAll(".tick text").attr("font-family", font).attr("font-size", 19).attr("fill", "#000");

svg.append("text").attr("x", 500).attr("y", 1312).attr("text-anchor", "middle")
  .attr("font-family", font).attr("font-size", 21).attr("fill", "#000").text(xLabel);
</script>
</body></html>
